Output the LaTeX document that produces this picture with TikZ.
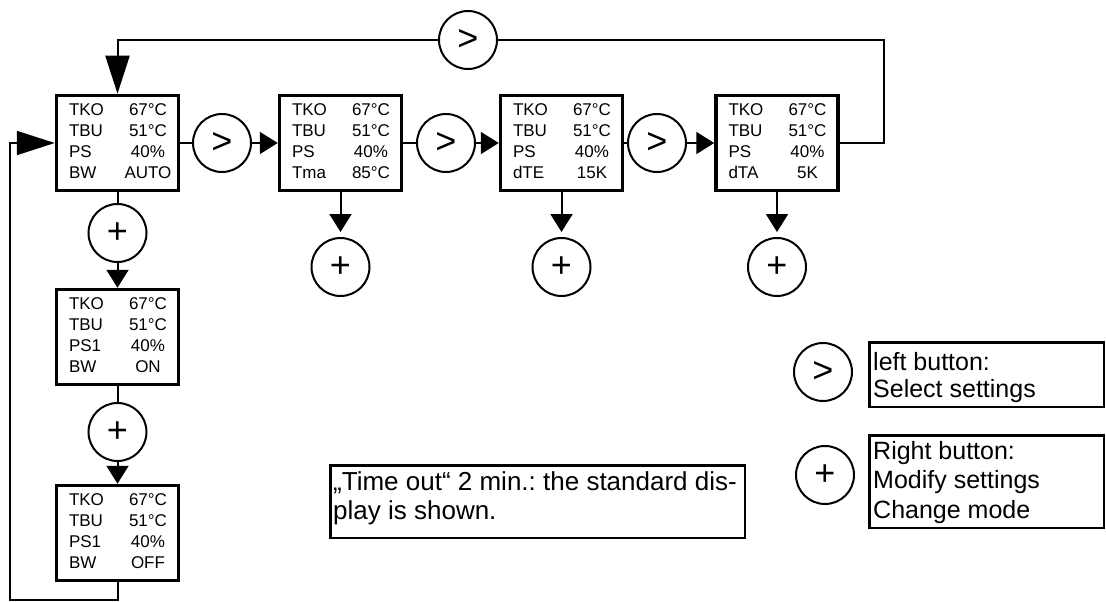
\documentclass[tikz,border=0pt]{standalone}
\usepackage{fontspec}
\setmainfont{Liberation Sans}
\usepackage{array}
\usetikzlibrary{arrows.meta}
\frenchspacing
\newcommand\disptext[8]{\begin{tabular}{@{}p{61pt}@{}w{c}{36pt}@{}}#1&#2\\#3&#4\\#5&#6\\#7&#8\end{tabular}}
\tikzset{
  disp/.style={draw, line width=3.5pt, minimum width=122pt, minimum height=95pt, inner sep=0pt, font=\fontsize{17}{21}\selectfont},
  btn/.style={draw, circle, line width=2pt, minimum size=58pt, inner sep=0pt, font=\fontsize{36}{36}\selectfont},
  conn/.style={line width=2pt},
  arr/.style={conn, -{Triangle[length=18pt,width=22pt]}},
  longarr/.style={conn, -{Triangle[length=38pt,width=24pt]}},
  note/.style={draw, line width=2.5pt, inner sep=0pt, anchor=north west},
  notetext/.style={inner sep=0pt, align=left, anchor=west},
}
\begin{document}
\begin{tikzpicture}[x=1pt, y=-1pt]
\useasboundingbox (0,0) rectangle (1106,602);
% display boxes
\node[disp] (b1) at (117.5,143) {\disptext{TKO}{67°C}{TBU}{51°C}{PS}{40\%}{BW}{AUTO}};
\node[disp] (b2) at (340.5,143) {\disptext{TKO}{67°C}{TBU}{51°C}{PS}{40\%}{Tma}{85°C}};
\node[disp] (b3) at (561.5,143) {\disptext{TKO}{67°C}{TBU}{51°C}{PS}{40\%}{dTE}{15K}};
\node[disp] (b4) at (777,143) {\disptext{TKO}{67°C}{TBU}{51°C}{PS}{40\%}{dTA}{5K}};
\node[disp] (b5) at (117.5,337) {\disptext{TKO}{67°C}{TBU}{51°C}{PS1}{40\%}{BW}{ON}};
\node[disp] (b6) at (117.5,533) {\disptext{TKO}{67°C}{TBU}{51°C}{PS1}{40\%}{BW}{OFF}};
% buttons
\node[btn] (c0) at (468,40) {>};
\node[btn] (c1) at (222,143) {>};
\node[btn] (c2) at (446,143) {>};
\node[btn] (c3) at (657,143) {>};
\node[btn] (p1) at (117.5,233) {+};
\node[btn] (p2) at (117.5,432) {+};
\node[btn] (p3) at (340.5,267) {+};
\node[btn] (p4) at (561.5,267) {+};
\node[btn] (p5) at (777,267) {+};
% connectors
\draw[conn] (b1) -- (c1);
\draw[arr] (c1) -- (b2);
\draw[conn] (b2) -- (c2);
\draw[arr] (c2) -- (b3);
\draw[conn] (b3) -- (c3);
\draw[arr] (c3) -- (b4);
\coordinate (r1) at (884,143);
\coordinate (r2) at (884,40);
\coordinate (t1) at (b1.north |- c0);
\draw[conn] (b4.east) -- (r1) -- (r2) -- (c0);
\draw[longarr] (c0) -- (t1) -- (b1.north);
\draw[conn] (b1) -- (p1);
\draw[arr] (p1) -- (b5);
\draw[conn] (b5) -- (p2);
\draw[arr] (p2) -- (b6);
\coordinate (q1) at (117.5,600);
\coordinate (q2) at (10,600);
\coordinate (q3) at (10,143);
\draw[longarr] (b6.south) -- (q1) -- (q2) -- (q3) -- (b1.west);
\draw[arr, shorten >=5pt] (b2) -- (p3);
\draw[arr, shorten >=5pt] (b3) -- (p4);
\draw[arr, shorten >=5pt] (b4) -- (p5);
% time-out note
\node[note, minimum width=414.5pt, minimum height=72.5pt] (tmo) at (329.25,464.25) {};
\node[notetext, font=\fontsize{26}{29}\selectfont] (tmot) at (333,498.5) {„Time out“ 2 min.: the standard dis-\\play is shown.};
% legend
\node[btn] (lg1) at (823,372) {>};
\node[note, minimum width=234.5pt, minimum height=64.5pt] (lt1) at (868.25,341.25) {};
\node[notetext, font=\fontsize{25}{27.5}\selectfont] (lt1t) at (873,377.5) {left button:\\Select settings};
\node[btn] (lg2) at (825,475) {+};
\node[note, minimum width=234.5pt, minimum height=92.5pt] (lt2) at (868.25,434.25) {};
\node[notetext, font=\fontsize{25}{29.5}\selectfont] (lt2t) at (873,482.5) {Right button:\\Modify settings\\Change mode};
\end{tikzpicture}
\end{document}
